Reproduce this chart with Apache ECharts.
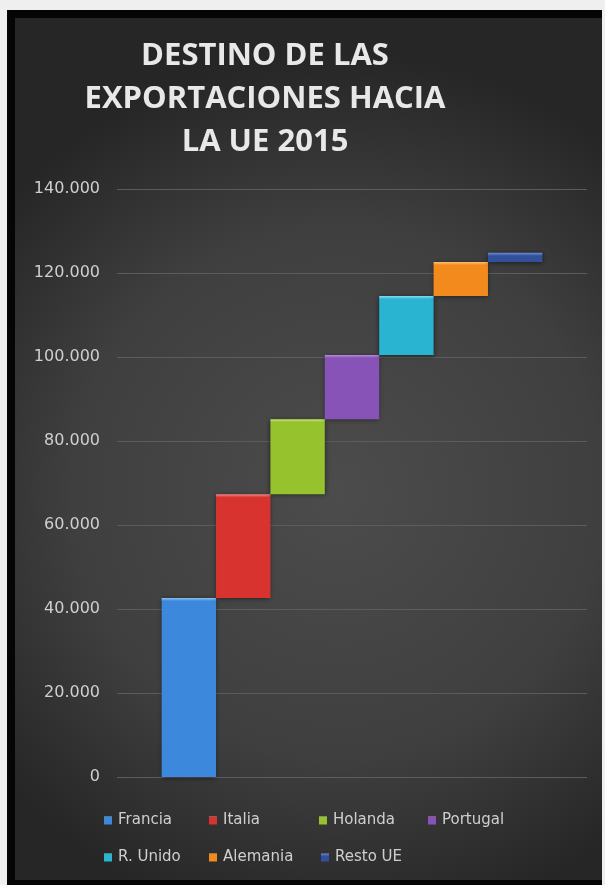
<!DOCTYPE html>
<html>
<head>
<meta charset="utf-8">
<script src="https://cdn.jsdelivr.net/npm/echarts@6/dist/echarts.min.js"></script>
<style>
  html, body { margin: 0; padding: 0; background: #efefef; width: 605px; height: 885px; overflow: hidden; }
  #frame { position: absolute; left: 7px; top: 10px; width: 595px; height: 875px; background: #050505; }
  #chart { position: absolute; left: 15px; top: 18px; width: 587px; height: 862px; }
</style>
</head>
<body>
<div id="frame"></div>
<div id="chart"></div>
<script>
// ---- data ----
const titleText = 'DESTINO DE LAS\nEXPORTACIONES HACIA\nLA UE 2015';
const countries = ['Francia', 'Italia', 'Holanda', 'Portugal', 'R. Unido', 'Alemania', 'Resto UE'];
const increments = [42600, 24700, 17900, 15300, 14000, 8100, 2200];
const colors = ['#3c88dc', '#d9332f', '#95c22d', '#8753b6', '#29b4d2', '#f28a1d', '#30509c'];
const lightColors = ['#8cc0f2', '#f08a86', '#cbe77a', '#b890de', '#86dcee', '#ffc070', '#6f8ed4'];
const yMin = 0, yMax = 140000, yStep = 20000;
const xCategory = ['2015'];

// ---- build ----
const bases = [];
let run = 0;
for (let i = 0; i < increments.length; i++) { bases.push(run); run += increments[i]; }

const fmt = v => String(v).replace(/\B(?=(\d{3})+(?!\d))/g, '.');

const series = [];
countries.forEach((name, i) => {
  series.push({
    name: 'base' + i, type: 'bar', stack: 's' + i, silent: true,
    data: [bases[i]], itemStyle: { color: 'rgba(0,0,0,0)' },
    barGap: '0%', barCategoryGap: '19%'
  });
  series.push({
    name: name, type: 'bar', stack: 's' + i,
    data: [increments[i]],
    barGap: '0%', barCategoryGap: '19%',
    itemStyle: {
      color: new echarts.graphic.LinearGradient(0, 0, 0, 1, [
        { offset: 0, color: lightColors[i] },
        { offset: Math.min(0.5, 3 / (increments[i] / 20000 * 84)), color: colors[i] },
        { offset: 1, color: colors[i] }
      ]),
      shadowColor: 'rgba(0,0,0,0.55)', shadowBlur: 5, shadowOffsetY: 1
    }
  });
});

// legend layout: two rows, four columns
const colLeft = [89, 194, 304, 413];
const rowTop = [795, 832];
const legends = countries.map((name, i) => ({
  data: [name],
  left: colLeft[i % 4] - (i >= 4 && i % 4 === 2 ? -2 : 0),
  top: rowTop[Math.floor(i / 4)],
  padding: 0,
  icon: 'rect', itemWidth: 8, itemHeight: 8,
  selectedMode: false,
  textStyle: { color: '#cfcfcf', fontSize: 15, fontFamily: 'DejaVu Sans', padding: [0, 0, 0, 1] }
}));

const chart = echarts.init(document.getElementById('chart'));
chart.setOption({
  animation: false,
  backgroundColor: new echarts.graphic.RadialGradient(0.55, 0.55, 0.75, [
    { offset: 0, color: '#4c4c4c' },
    { offset: 0.6, color: '#3f3f3f' },
    { offset: 1, color: '#262626' }
  ]),
  title: {
    text: titleText,
    left: 245, top: 12, textAlign: 'center',
    textStyle: { color: '#e8e8e8', fontSize: 31, fontWeight: 'bold', fontFamily: 'Open Sans', lineHeight: 43 }
  },
  legend: legends,
  grid: { left: 102, right: 15, top: 171, bottom: 103, containLabel: false },
  xAxis: {
    type: 'category', data: xCategory,
    axisLine: { show: false }, axisTick: { show: false }, axisLabel: { show: false }
  },
  yAxis: {
    type: 'value', min: yMin, max: yMax, interval: yStep,
    axisLine: { show: false }, axisTick: { show: false },
    axisLabel: { color: '#cfcfcf', fontSize: 16, fontFamily: 'DejaVu Sans', margin: 17, formatter: fmt },
    splitLine: { lineStyle: { color: '#5c5c5c', width: 1 } }
  },
  series: series
});
</script>
</body>
</html>
